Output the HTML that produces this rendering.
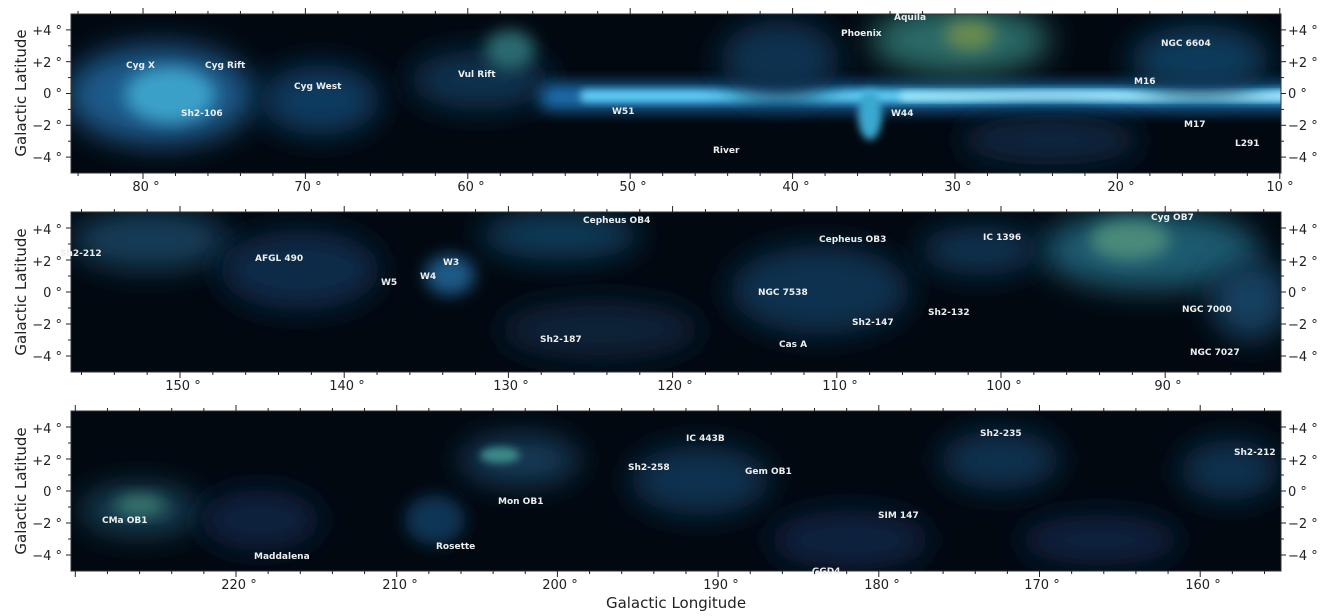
<!DOCTYPE html>
<html><head><meta charset="utf-8"><style>
html,body{margin:0;padding:0;background:#fff;}
svg{display:block;font-family:"DejaVu Sans","Liberation Sans",sans-serif;}
.t{font-size:13px;fill:#222;}
.lab{font-size:9px;font-weight:bold;fill:#eee;font-family:"DejaVu Sans",sans-serif;}
.ax{font-size:15px;fill:#222;}
</style></head><body>
<svg width="1327" height="616" viewBox="0 0 1327 616">
<defs>
<filter id="b8" x="-50%" y="-50%" width="200%" height="200%"><feGaussianBlur stdDeviation="8"/></filter>
<filter id="b4" x="-50%" y="-50%" width="200%" height="200%"><feGaussianBlur stdDeviation="4"/></filter>
<filter id="b15" x="-50%" y="-50%" width="200%" height="200%"><feGaussianBlur stdDeviation="15"/></filter>
<clipPath id="c1"><rect x="71" y="14" width="1210" height="159"/></clipPath>
<clipPath id="c2"><rect x="71" y="212" width="1210" height="160"/></clipPath>
<clipPath id="c3"><rect x="71" y="411" width="1210" height="160"/></clipPath>
</defs>

<!-- Panel 1 -->
<rect x="71" y="14" width="1210" height="159" fill="#020810"/>
<g clip-path="url(#c1)">
<ellipse cx="160" cy="95" rx="95" ry="50" fill="#1a5a8a" filter="url(#b15)"/>
<ellipse cx="170" cy="95" rx="45" ry="28" fill="#3aa0c8" filter="url(#b8)"/>
<ellipse cx="320" cy="100" rx="60" ry="35" fill="#0f3a60" filter="url(#b15)"/>
<ellipse cx="480" cy="80" rx="70" ry="30" fill="#0e3050" filter="url(#b15)"/>
<ellipse cx="510" cy="50" rx="25" ry="20" fill="#2a6a70" filter="url(#b8)"/>
<rect x="540" y="84" width="760" height="26" rx="10" fill="#1d70b0" filter="url(#b8)"/>
<rect x="580" y="90" width="720" height="12" rx="6" fill="#60d0f5" filter="url(#b4)"/>
<rect x="900" y="92" width="400" height="8" rx="4" fill="#b0ecff" filter="url(#b4)"/>
<ellipse cx="960" cy="40" rx="90" ry="35" fill="#2a6a68" filter="url(#b15)"/>
<ellipse cx="970" cy="35" rx="25" ry="15" fill="#6a8a50" filter="url(#b8)"/>
<ellipse cx="870" cy="115" rx="12" ry="25" fill="#3aa8d0" filter="url(#b4)"/>
<ellipse cx="1200" cy="60" rx="70" ry="35" fill="#0f3a5a" filter="url(#b15)"/>
<ellipse cx="780" cy="60" rx="60" ry="40" fill="#0f3050" filter="url(#b15)"/>
<ellipse cx="1050" cy="140" rx="90" ry="25" fill="#0a2540" filter="url(#b15)"/>
</g>
<rect x="71" y="14" width="1210" height="159" fill="none" stroke="#333" stroke-width="1"/>
<g class="lab">
<text x="126" y="68">Cyg X</text><text x="205" y="68">Cyg Rift</text><text x="294" y="89">Cyg West</text>
<text x="181" y="116">Sh2-106</text><text x="458" y="77">Vul Rift</text><text x="612" y="114">W51</text>
<text x="713" y="153">River</text><text x="841" y="36">Phoenix</text><text x="894" y="20">Aquila</text>
<text x="891" y="116">W44</text><text x="1161" y="46">NGC 6604</text><text x="1134" y="84">M16</text>
<text x="1184" y="127">M17</text><text x="1235" y="146">L291</text>
</g>

<!-- Panel 2 -->
<rect x="71" y="212" width="1210" height="160" fill="#020810"/>
<g clip-path="url(#c2)">
<ellipse cx="150" cy="240" rx="80" ry="30" fill="#123c58" filter="url(#b15)"/>
<ellipse cx="300" cy="270" rx="80" ry="40" fill="#0c2a48" filter="url(#b15)"/>
<ellipse cx="450" cy="275" rx="25" ry="20" fill="#1a5a88" filter="url(#b8)"/>
<ellipse cx="560" cy="235" rx="80" ry="25" fill="#103a58" filter="url(#b15)"/>
<ellipse cx="820" cy="290" rx="90" ry="45" fill="#0e3050" filter="url(#b15)"/>
<ellipse cx="1150" cy="250" rx="110" ry="40" fill="#1e5a70" filter="url(#b15)"/>
<ellipse cx="1130" cy="240" rx="40" ry="20" fill="#4a8a7a" filter="url(#b8)"/>
<ellipse cx="1250" cy="300" rx="40" ry="40" fill="#133f60" filter="url(#b15)"/>
<ellipse cx="600" cy="330" rx="100" ry="30" fill="#0a2238" filter="url(#b15)"/>
<ellipse cx="980" cy="250" rx="60" ry="25" fill="#0e3050" filter="url(#b15)"/>
</g>
<rect x="71" y="212" width="1210" height="160" fill="none" stroke="#333" stroke-width="1"/>
<g class="lab">
<text x="60" y="256">Sh2-212</text><text x="255" y="261">AFGL 490</text><text x="443" y="265">W3</text>
<text x="420" y="279">W4</text><text x="381" y="285">W5</text><text x="583" y="223">Cepheus OB4</text>
<text x="819" y="242">Cepheus OB3</text><text x="983" y="240">IC 1396</text><text x="1151" y="220">Cyg OB7</text>
<text x="758" y="295">NGC 7538</text><text x="852" y="325">Sh2-147</text><text x="928" y="315">Sh2-132</text>
<text x="540" y="342">Sh2-187</text><text x="779" y="347">Cas A</text><text x="1182" y="312">NGC 7000</text>
<text x="1190" y="355">NGC 7027</text>
</g>

<!-- Panel 3 -->
<rect x="71" y="411" width="1210" height="160" fill="#020810"/>
<g clip-path="url(#c3)">
<ellipse cx="140" cy="510" rx="60" ry="25" fill="#153f55" filter="url(#b15)"/>
<ellipse cx="140" cy="505" rx="25" ry="10" fill="#3a7a70" filter="url(#b8)"/>
<ellipse cx="260" cy="520" rx="60" ry="30" fill="#0a2440" filter="url(#b15)"/>
<ellipse cx="520" cy="460" rx="60" ry="25" fill="#143a58" filter="url(#b15)"/>
<ellipse cx="500" cy="455" rx="20" ry="8" fill="#3a8a88" filter="url(#b4)"/>
<ellipse cx="700" cy="480" rx="70" ry="35" fill="#0e3050" filter="url(#b15)"/>
<ellipse cx="435" cy="520" rx="30" ry="25" fill="#0f3455" filter="url(#b8)"/>
<ellipse cx="850" cy="540" rx="80" ry="30" fill="#0a2440" filter="url(#b15)"/>
<ellipse cx="1000" cy="460" rx="60" ry="30" fill="#0f3050" filter="url(#b15)"/>
<ellipse cx="1100" cy="540" rx="80" ry="25" fill="#0a2440" filter="url(#b15)"/>
<ellipse cx="1230" cy="470" rx="50" ry="30" fill="#0f3050" filter="url(#b15)"/>
</g>
<rect x="71" y="411" width="1210" height="160" fill="none" stroke="#333" stroke-width="1"/>
<g class="lab">
<text x="102" y="523">CMa OB1</text><text x="254" y="559">Maddalena</text><text x="436" y="549">Rosette</text>
<text x="498" y="504">Mon OB1</text><text x="628" y="470">Sh2-258</text><text x="686" y="441">IC 443B</text>
<text x="745" y="474">Gem OB1</text><text x="878" y="518">SIM 147</text><text x="980" y="436">Sh2-235</text>
<text x="1234" y="455">Sh2-212</text><text x="812" y="574">GGD4</text>
</g>

<g stroke="#222" stroke-width="1" id="ticks"></g>

<g class="t" text-anchor="end">
<text x="62" y="35">+4 °</text><text x="62" y="67">+2 °</text><text x="62" y="98">0 °</text><text x="62" y="130">−2 °</text><text x="62" y="162">−4 °</text>
<text x="62" y="234">+4 °</text><text x="62" y="266">+2 °</text><text x="62" y="297">0 °</text><text x="62" y="329">−2 °</text><text x="62" y="361">−4 °</text>
<text x="62" y="433">+4 °</text><text x="62" y="465">+2 °</text><text x="62" y="496">0 °</text><text x="62" y="528">−2 °</text><text x="62" y="560">−4 °</text>
</g>
<g class="t" text-anchor="start">
<text x="1288" y="35">+4 °</text><text x="1288" y="67">+2 °</text><text x="1288" y="98">0 °</text><text x="1288" y="130">−2 °</text><text x="1288" y="162">−4 °</text>
<text x="1288" y="234">+4 °</text><text x="1288" y="266">+2 °</text><text x="1288" y="297">0 °</text><text x="1288" y="329">−2 °</text><text x="1288" y="361">−4 °</text>
<text x="1288" y="433">+4 °</text><text x="1288" y="465">+2 °</text><text x="1288" y="496">0 °</text><text x="1288" y="528">−2 °</text><text x="1288" y="560">−4 °</text>
</g>
<g class="t" text-anchor="middle">
<text x="146" y="191">80 °</text><text x="308" y="191">70 °</text><text x="471" y="191">60 °</text><text x="633" y="191">50 °</text><text x="796" y="191">40 °</text><text x="958" y="191">30 °</text><text x="1121" y="191">20 °</text><text x="1280" y="191">10 °</text>
<text x="183" y="390">150 °</text><text x="347" y="390">140 °</text><text x="511" y="390">130 °</text><text x="675" y="390">120 °</text><text x="840" y="390">110 °</text><text x="1004" y="390">100 °</text><text x="1168" y="390">90 °</text>
<text x="239" y="589">220 °</text><text x="400" y="589">210 °</text><text x="560" y="589">200 °</text><text x="721" y="589">190 °</text><text x="882" y="589">180 °</text><text x="1042" y="589">170 °</text><text x="1203" y="589">160 °</text>
</g>
<g class="ax" text-anchor="middle">
<text transform="translate(26,93) rotate(-90)">Galactic Latitude</text>
<text transform="translate(26,292) rotate(-90)">Galactic Latitude</text>
<text transform="translate(26,491) rotate(-90)">Galactic Latitude</text>
<text x="676" y="608">Galactic Longitude</text>
</g>
<script>
(function(){
var g=document.getElementById('ticks'),ns='http://www.w3.org/2000/svg';
function L(x1,y1,x2,y2){var l=document.createElementNS(ns,'line');l.setAttribute('x1',x1);l.setAttribute('y1',y1);l.setAttribute('x2',x2);l.setAttribute('y2',y2);g.appendChild(l);}
var P=[{top:14,bot:173,x0:143,l0:80,s:16.24},{top:212,bot:372,x0:180,l0:150,s:16.42},{top:411,bot:571,x0:236,l0:220,s:16.07}];
P.forEach(function(p){
 for(var d=-30;d<=90;d+=2){var x=p.x0+d*p.s;if(x<71||x>1281)continue;var maj=(d%10===0);var len=maj?6:3;
  L(x,p.bot,x,p.bot+len);L(x,p.top,x,p.top-len);}
 var c=(p.top+p.bot)/2,s=(p.bot-p.top)/10;
 for(var b=-4;b<=4;b++){var y=c-b*s;var len=(b%2===0)?5:3;L(71,y,71-len,y);L(1281,y,1281+len,y);}
});
})();
</script>
</svg>
</body></html>
